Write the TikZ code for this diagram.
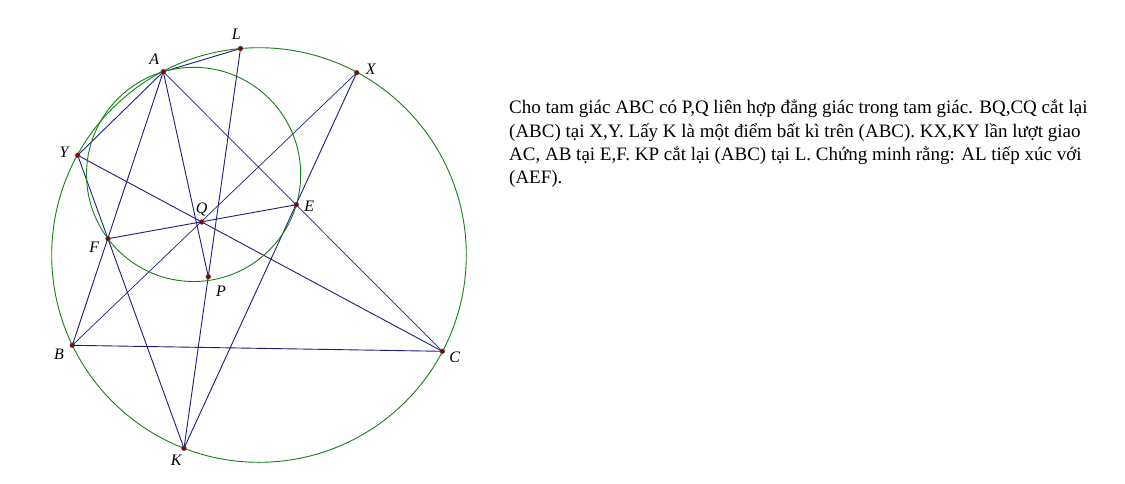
\documentclass[tikz,border=0pt]{standalone}
\usepackage{fontspec}
\setmainfont{Liberation Serif}
\usepackage{tikz}
\usetikzlibrary{backgrounds}

\definecolor{navyline}{RGB}{30,30,130}
\definecolor{circgreen}{RGB}{20,130,20}
\definecolor{dotred}{RGB}{140,0,0}

\begin{document}
\begin{tikzpicture}[x=1pt,y=-1pt,
    seg/.style={draw=navyline,line width=0.9pt},
    thinseg/.style={draw=navyline,line width=0.7pt},
    circ/.style={draw=circgreen,line width=0.9pt},
    pt/.style={circle,fill=dotred,draw=black!70,line width=0.4pt,inner sep=0pt,minimum size=4.8pt},
    lbl/.style={font=\fontsize{16}{16}\selectfont\itshape,inner sep=0pt,anchor=center}]
    \useasboundingbox (0,0) rectangle (1125,483);
    % points
    \node (A) at (163.3,71.7) [pt,label={[lbl,label distance=12.8pt]126:A}] {};
    \node (L) at (240.5,48.5) [pt,label={[lbl,label distance=12pt]107:L}] {};
    \node (X) at (356.7,72.7) [pt,label={[lbl,label distance=11.9pt]14:X}] {};
    \node (Y) at (77.7,155.3) [pt,label={[lbl,label distance=11.4pt]169:Y}] {};
    \node (Q) at (201.7,222) [pt,label={[lbl,label distance=10.2pt]90:Q}] {};
    \node (E) at (296.3,204.7) [pt,label={[lbl,label distance=10.5pt]-6:E}] {};
    \node (F) at (108,238.7) [pt,label={[lbl,label distance=13.9pt]213:F}] {};
    \node (P) at (208.3,276.7) [pt,label={[lbl,label distance=17pt]-50:P}] {};
    \node (B) at (72.3,345.3) [pt,label={[lbl,label distance=13.5pt]214:B}] {};
    \node (C) at (442.3,351.3) [pt,label={[lbl,label distance=11.3pt]-26:C}] {};
    \node (K) at (184,448.3) [pt,label={[lbl,label distance=11.5pt]237:K}] {};
    \begin{scope}[on background layer]
    \fill[white] (0,0) rectangle (1125,483);
    % segments
    \path[seg] (A.center) -- (L.center);
    \path[seg] (A.center) -- (Y.center);
    \path[seg] (A.center) -- (B.center);
    \path[seg] (A.center) -- (P.center);
    \path[thinseg] (A.center) -- (C.center);
    \path[seg] (B.center) -- (C.center);
    \path[thinseg] (B.center) -- (X.center);
    \path[seg] (Y.center) -- (C.center);
    \path[seg] (Y.center) -- (K.center);
    \path[seg] (X.center) -- (K.center);
    \path[seg] (L.center) -- (K.center);
    \path[seg] (F.center) -- (E.center);
    % circles (ABC) and (AEF)
    \draw[circ] (259,255) circle [radius=207.3pt];
    \draw[circ] (193.6,174.4) circle [radius=107.1pt];
    \end{scope}
    % problem statement
    \node (txt) at (509,183.4) [anchor=base west,align=left,inner sep=0pt,
        font=\fontsize{19}{23.2}\selectfont] {Cho tam giác ABC có P,Q liên hợp đẳng giác trong tam giác. BQ,CQ cắt lại\\
(ABC) tại X,Y. Lấy K là một điểm bất kì trên (ABC). KX,KY lần lượt giao\\
AC, AB tại E,F. KP cắt lại (ABC) tại L. Chứng minh rằng: AL tiếp xúc với\\
(AEF).};
\end{tikzpicture}
\end{document}
